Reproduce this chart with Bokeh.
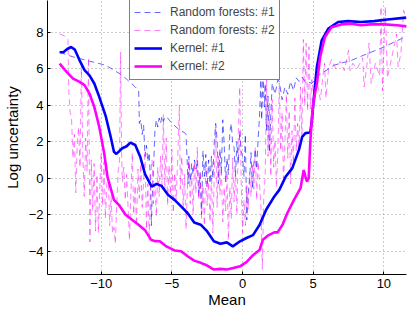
from bokeh.plotting import figure
from bokeh.models import Range1d, FixedTicker, Legend, LegendItem
from bokeh.embed import file_html
from bokeh.resources import INLINE

# ---------------- data ----------------
kernel1_x = [-12.94, -12.68, -12.4, -12.13, -11.87, -11.53, -11.18, -10.83, -10.49, -10.14,
             -9.67, -9.33, -9.1, -8.93, -8.7, -8.51, -8.2, -7.94, -7.59, -7.24,
             -6.9, -6.43, -6.08, -5.74, -5.28, -4.81, -4.35, -3.89, -3.42, -2.96,
             -2.5, -2.03, -1.57, -1.11, -0.69, -0.18, 0.28, 0.74, 1.21, 1.67,
             2.25, 2.6, 3.06, 3.52, 3.99, 4.22, 4.45, 4.79, 4.91, 5.03,
             5.26, 5.6, 6.07, 6.76, 7.46, 8.38, 9.31, 10.24, 11.58]
kernel1_y = [6.90, 6.90, 7.08, 7.19, 7.05, 6.46, 5.92, 5.64, 5.19, 4.46,
             3.37, 2.27, 1.45, 1.33, 1.50, 1.64, 1.75, 1.95, 1.82, 1.18,
             0.22, -0.46, -0.31, -0.42, -0.91, -1.19, -1.55, -1.91, -2.43, -2.55,
             -2.92, -3.46, -3.59, -3.52, -3.74, -3.46, -3.28, -3.12, -2.55, -1.73,
             -1.00, -0.64, 0.09, 0.55, 1.55, 2.27, 2.47, 2.50, 3.19, 4.28,
             6.10, 7.56, 8.20, 8.56, 8.61, 8.56, 8.61, 8.70, 8.80]

kernel2_x = [-12.94, -12.45, -11.99, -11.53, -11.18, -10.83, -10.49, -10.14, -9.79, -9.56,
             -9.1, -8.75, -8.28, -7.82, -7.36, -6.9, -6.48, -6.2, -5.85, -5.39,
             -4.81, -4.35, -3.89, -3.42, -2.96, -2.5, -2.03, -1.57, -1.11, -0.65,
             -0.18, 0.28, 0.74, 1.21, 1.44, 1.78, 2.25, 2.48, 2.83, 3.17,
             3.64, 4.1, 4.33, 4.45, 4.56, 4.68, 4.79, 4.91, 5.03, 5.26,
             5.49, 5.83, 6.3, 6.99, 7.69, 8.38, 9.07, 10.0, 10.93, 11.62]
kernel2_y = [6.28, 5.83, 5.46, 5.28, 5.10, 4.64, 3.91, 2.82, 1.37, 0.09,
             -1.19, -1.46, -2.00, -2.28, -2.55, -2.85, -3.37, -3.45, -3.46, -3.74,
             -3.96, -4.01, -4.28, -4.52, -4.64, -4.79, -5.01, -4.97, -5.01, -4.92,
             -4.83, -4.60, -4.22, -3.92, -3.37, -3.15, -2.97, -2.97, -2.55, -1.91,
             -1.19, -0.55, 0.45, 0.09, -0.19, 0.00, 1.91, 3.37, 4.28, 5.19,
             6.64, 7.74, 8.28, 8.43, 8.47, 8.38, 8.43, 8.43, 8.38, 8.32]

rf1_points = [
    (-12.94, 6.9), (-12.0, 6.65), (-11.0, 6.45), (-9.67, 6.19), (-8.51, 5.64), (-7.59, 5.0),
    (-7.35, 4.8), (-7.3, 3.0), (-7.2, 3.2), (-7.1, 2.4), (-7.0, 2.9), (-6.9, 1.2),
    (-6.8, 1.8), (-6.7, 0.9), (-6.6, 1.4), (-6.5, -0.6), (-6.45, -2.6), (-6.4, -1.2),
    (-6.3, 0.5), (-6.2, 2.6), (-6.1, 3.2), (-6.0, 2.8), (-5.9, 3.3), (-5.8, 3.0),
    (-5.7, 3.4), (-5.6, 3.1), (-5.5, 3.35), (-5.3, 3.3), (-5.1, 3.1), (-4.7, 2.8),
    (-4.4, 2.6), (-4.1, 2.5), (-4.0, 2.4), (-3.9, 0.6), (-3.85, -0.3), (-3.8, 1.2),
    (-3.7, -0.2), (-3.6, 0.8), (-3.5, 0.2), (-3.4, 1.0), (-3.3, 0.5), (-3.2, 1.0),
    (-3.1, -1.0), (-3.0, 0.3), (-2.9, -2.0), (-2.8, 1.5), (-2.7, 0.1), (-2.6, 1.3),
    (-2.5, -0.5), (-2.4, 1.0), (-2.3, -0.3), (-2.2, 1.2), (-2.1, 0.0), (-2.0, 2.0),
    (-1.9, 3.0), (-1.8, 2.1), (-1.7, -0.3), (-1.6, 1.6), (-1.5, 0.3), (-1.4, 3.2),
    (-1.3, 1.9), (-1.2, -0.2), (-1.1, 1.1), (-1.0, 0.2), (-0.9, 2.5), (-0.8, 3.0),
    (-0.7, 1.9), (-0.6, 1.7), (-0.5, 0.1), (-0.4, 2.0), (-0.3, 0.8), (-0.2, 2.6),
    (-0.1, 1.5), (0.0, 1.2), (0.1, 0.1), (0.2, 2.4), (0.25, -0.1), (0.3, -2.3),
    (0.4, -0.8), (0.5, -0.1), (0.6, 1.4), (0.7, -0.6), (0.8, 0.8), (0.9, 1.6),
    (1.0, 0.5), (1.1, 2.1), (1.2, 3.4), (1.3, 5.4), (1.35, 3.2), (1.45, 5.4),
    (1.55, 3.9), (1.6, 5.2), (1.7, 2.6), (1.8, 4.5), (1.9, 1.4), (2.0, 3.5),
    (2.1, 5.2), (2.3, 4.6), (2.5, 5.4), (2.6, 5.3), (2.8, 4.3), (3.0, 5.0),
    (3.2, 4.6), (3.4, 5.3), (3.6, 4.8), (3.8, 5.5), (4.0, 5.3), (4.22, 5.55),
    (4.4, 5.3), (4.7, 5.25), (4.9, 5.2), (5.4, 5.65), (6.5, 6.2), (7.7, 6.46),
    (8.85, 6.83), (10.0, 7.19), (11.6, 7.78),
]

rf2_points = [
    (-12.94, 7.9), (-12.57, 7.8), (-12.35, 7.6), (-12.3, 4.9), (-12.2, 3.6), (-12.1, 3.3),
    (-12.0, 1.1), (-11.9, 2.4), (-11.8, -0.8), (-11.7, 1.8), (-11.6, 2.8), (-11.5, 0.6),
    (-11.4, 6.3), (-11.3, 1.2), (-11.2, -1.0), (-11.1, 2.2), (-11.0, 0.4), (-10.9, 6.6),
    (-10.8, -3.5), (-10.7, 1.0), (-10.6, -1.8), (-10.5, 0.8), (-10.4, -2.9), (-10.3, 0.2),
    (-10.2, -3.0), (-10.1, -0.6), (-10.0, 1.4), (-9.9, -1.5), (-9.8, 0.9), (-9.7, -2.2),
    (-9.6, -0.3), (-9.5, 0.1), (-9.4, -2.6), (-9.3, -1.0), (-9.2, -3.0), (-9.1, -2.7),
    (-9.0, -3.6), (-8.9, -1.4), (-8.8, 0.4), (-8.7, 1.0), (-8.63, 6.9), (-8.55, 1.0),
    (-8.5, -0.2), (-8.4, 0.6), (-8.3, -1.2), (-8.2, 0.2), (-8.1, -1.6), (-8.0, -3.4),
    (-7.9, -0.8), (-7.8, 1.4), (-7.7, -2.0), (-7.6, -0.4), (-7.5, -2.6), (-7.4, 0.5),
    (-7.3, -1.1), (-7.2, 0.8), (-7.1, -1.6), (-7.0, -0.2), (-6.9, 1.5), (-6.8, -2.8),
    (-6.7, -0.3), (-6.6, -3.4), (-6.5, 0.2), (-6.4, 1.0), (-6.3, -1.4), (-6.2, -0.3),
    (-6.1, -2.1), (-6.0, 0.6), (-5.9, -1.0), (-5.8, 1.2), (-5.7, -0.4), (-5.6, 3.5),
    (-5.5, -0.6), (-5.4, 2.2), (-5.3, -1.5), (-5.2, 0.7), (-5.1, -0.9), (-5.0, 1.6),
    (-4.9, -1.9), (-4.8, 0.3), (-4.7, -1.2), (-4.6, 0.8), (-4.47, 4.0), (-4.4, -0.6),
    (-4.3, 1.2), (-4.2, -1.7), (-4.1, 0.2), (-4.0, -2.8), (-3.9, -0.5), (-3.8, 1.0),
    (-3.7, -1.4), (-3.6, 0.3), (-3.5, -2.0), (-3.4, 0.9), (-3.3, -0.8), (-3.2, 1.7),
    (-3.1, -1.2), (-3.0, 0.4), (-2.9, -2.2), (-2.8, -0.4), (-2.7, -2.6), (-2.6, 0.6),
    (-2.5, -1.5), (-2.4, -0.2), (-2.3, -2.4), (-2.2, 0.2), (-2.1, -3.0), (-2.0, 0.1),
    (-1.9, 2.8), (-1.8, -1.6), (-1.7, 1.2), (-1.6, -0.9), (-1.5, 0.6), (-1.4, -2.4),
    (-1.3, -0.5), (-1.2, -1.8), (-1.1, 0.3), (-1.0, -3.4), (-0.9, -0.5), (-0.8, -2.2),
    (-0.7, 1.1), (-0.6, -1.3), (-0.5, 0.4), (-0.4, -2.0), (-0.3, 2.4), (-0.2, 5.0),
    (-0.15, 2.6), (-0.1, -0.1), (0.0, -3.0), (0.1, -1.2), (0.2, -2.6), (0.3, -0.4),
    (0.4, -1.7), (0.5, 0.3), (0.6, -1.0), (0.7, 0.8), (0.8, -0.6), (0.9, 1.7),
    (1.0, -1.2), (1.1, 0.9), (1.2, -0.3), (1.3, -1.6), (1.4, -5.0), (1.5, -1.0),
    (1.6, 0.1), (1.7, 5.4), (1.8, 1.2), (1.9, 4.1), (2.0, 0.1), (2.1, 4.3),
    (2.2, 0.6), (2.3, 2.1), (2.4, -0.5), (2.5, 1.4), (2.6, 5.2), (2.7, 1.5),
    (2.8, 3.6), (2.9, -0.3), (3.0, 2.0), (3.1, 4.6), (3.2, 1.1), (3.3, 3.7),
    (3.4, -0.3), (3.5, 2.6), (3.6, 0.8), (3.7, 4.4), (3.8, 1.5), (3.9, 3.0),
    (4.0, 1.5), (4.1, 5.0), (4.2, 2.2), (4.3, 7.6), (4.4, 4.0), (4.5, 7.4),
    (4.6, 3.7), (4.7, 7.2), (4.8, 3.8), (4.9, 5.4), (5.1, 4.1), (5.3, 5.2),
    (5.5, 4.3), (5.8, 6.3), (5.9, 4.4), (6.1, 6.1), (6.3, 6.5), (6.6, 6.0),
    (6.9, 6.4), (7.2, 5.9), (7.5, 7.0), (7.6, 5.9), (7.8, 6.3), (8.1, 6.0),
    (8.5, 6.6), (8.6, 5.0), (8.8, 6.2), (8.95, 7.4), (9.1, 5.2), (9.4, 6.3),
    (9.7, 5.6), (9.8, 9.4), (9.9, 4.8), (10.1, 9.4), (10.25, 5.5), (10.5, 6.4),
    (10.9, 7.9), (11.0, 6.1), (11.2, 6.8), (11.4, 9.2), (11.6, 8.7),
]

rf1_x = [p[0] for p in rf1_points]
rf1_y = [p[1] for p in rf1_points]
rf2_x = [p[0] for p in rf2_points]
rf2_y = [p[1] for p in rf2_points]

series_labels = ["Random forests: #1", "Random forests: #2", "Kernel: #1", "Kernel: #2"]
x_ticks = [-10, -5, 0, 5, 10]
x_tick_labels = ["\u221210", "\u22125", "0", "5", "10"]
y_ticks = [-4, -2, 0, 2, 4, 6, 8]
y_tick_labels = ["\u22124", "\u22122", "0", "2", "4", "6", "8"]
x_label = "Mean"
y_label = "Log uncertainty"

# ---------------- figure ----------------
FONT = "Liberation Sans"
W, H = 407, 310
BL, BR, BB = 41, 1, 35     # frame: x 41..406, y 0..275
FH = H - BB

p = figure(width=W, height=H, output_backend="svg", toolbar_location=None,
           x_range=Range1d(-13.80, 11.60), y_range=Range1d(-5.28, 9.74),
           min_border_left=BL, min_border_right=BR, min_border_top=0, min_border_bottom=BB)
p.outline_line_color = None
p.background_fill_color = "white"
p.border_fill_color = "white"

for ax, ticks, labels in ((p.xaxis[0], x_ticks, x_tick_labels), (p.yaxis[0], y_ticks, y_tick_labels)):
    ax.ticker = FixedTicker(ticks=ticks)
    ax.major_label_overrides = {t: l for t, l in zip(ticks, labels)}
    ax.minor_tick_line_color = None
    ax.major_tick_in = 3
    ax.major_tick_out = 0
    ax.axis_line_color = "black"
    ax.major_tick_line_color = "black"
    ax.major_label_text_font = FONT
    ax.major_label_text_font_size = "13px"
    ax.major_label_text_color = "black"
    ax.axis_label_text_font = FONT
    ax.axis_label_text_font_size = "15px"
    ax.axis_label_text_font_style = "normal"
    ax.axis_label_text_color = "black"

p.xaxis.axis_label = x_label
p.yaxis.axis_label = y_label
p.xaxis.major_label_standoff = 4
p.xaxis.axis_label_standoff = 0
p.yaxis.major_label_standoff = 4
p.yaxis.axis_label_standoff = 5

for g in (p.xgrid[0], p.ygrid[0]):
    g.grid_line_color = "#9a9a9a"
    g.grid_line_dash = "1 3"
    g.grid_line_width = 1

r1 = p.line(rf1_x, rf1_y, line_color="#0000ff", line_width=1, line_alpha=0.6, line_dash="6 4")
r2 = p.line(rf2_x, rf2_y, line_color="#ff00ff", line_width=1, line_alpha=0.5, line_dash="6 4")
r3 = p.line(kernel1_x, kernel1_y, line_color="#0000ff", line_width=2.6)
r4 = p.line(kernel2_x, kernel2_y, line_color="#ff00ff", line_width=2.6)

legend = Legend(items=[LegendItem(label=series_labels[i], renderers=[r]) for i, r in enumerate((r1, r2, r3, r4))],
                location=(82, FH - 81))
legend.label_text_font = FONT
legend.label_text_font_size = "12px"
legend.border_line_color = "black"
legend.border_line_width = 1
legend.background_fill_color = "white"
legend.background_fill_alpha = 1
legend.padding = 4
legend.spacing = 0
legend.margin = 0
legend.glyph_width = 28
legend.glyph_height = 18
legend.label_height = 18
legend.label_standoff = 8
legend.label_text_baseline = "middle"
p.add_layout(legend)

open("out.html", "w").write(file_html(p, INLINE))
